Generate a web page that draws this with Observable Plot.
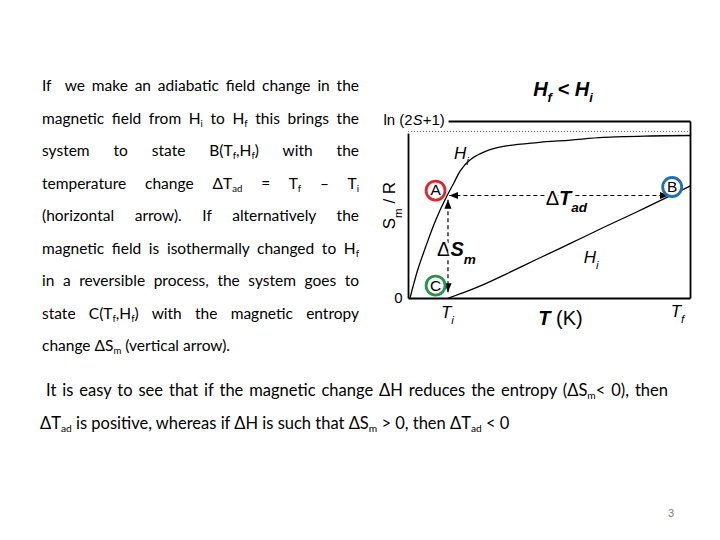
<!DOCTYPE html>
<html><head><meta charset="utf-8">
<script src="https://cdn.jsdelivr.net/npm/d3@7"></script>
<script src="https://cdn.jsdelivr.net/npm/@observablehq/plot@0.6"></script>
<style>
html,body{margin:0;padding:0;background:#fff;}
body{width:720px;height:540px;position:relative;overflow:hidden;font-family:Lato,"Open Sans",sans-serif;color:#000;}
.ln{position:absolute;left:42px;width:317px;height:20px;line-height:20px;font-size:15.5px;white-space:nowrap;text-align:justify;text-align-last:justify;}
.ln.last{text-align-last:left;width:auto;}
.bt{position:absolute;height:20px;line-height:20px;font-size:16.5px;white-space:nowrap;}
sub{font-size:0.62em;vertical-align:-0.3em;line-height:0;}
#title{position:absolute;left:463px;width:200px;top:78px;text-align:center;font-family:"Liberation Sans",Arial,sans-serif;font-weight:bold;font-style:italic;font-size:20px;}
#title sub{font-size:0.65em;vertical-align:-0.45em;}
#chart{position:absolute;left:370px;top:100px;}
#pg{position:absolute;left:668px;top:507px;font-size:11px;color:#7f7f7f;font-family:"Liberation Sans",sans-serif;}
</style>
</head><body>
<div class="ln" style="top:75px">If&nbsp; we make an adiabatic field change in the</div>
<div class="ln" style="top:107.5px">magnetic field from H<sub>i</sub> to H<sub>f</sub> this brings the</div>
<div class="ln" style="top:140px">system to state B(T<sub>f</sub>,H<sub>f</sub>) with the</div>
<div class="ln" style="top:172.5px">temperature change ΔT<sub>ad</sub> = T<sub>f</sub> – T<sub>i</sub></div>
<div class="ln" style="top:205px">(horizontal arrow). If alternatively the</div>
<div class="ln" style="top:237.5px">magnetic field is isothermally changed to H<sub>f</sub></div>
<div class="ln" style="top:270px">in a reversible process, the system goes to</div>
<div class="ln" style="top:302.5px">state C(T<sub>f</sub>,H<sub>f</sub>) with the magnetic entropy</div>
<div class="ln last" style="top:335px">change ΔS<sub>m</sub> (vertical arrow).</div>
<div class="bt fitj" style="top:380px;left:46px;width:622px;text-align:justify;text-align-last:justify;">It is easy to see that if the magnetic change ΔH reduces the entropy (ΔS<sub>m</sub>&lt; 0), then</div>
<div class="bt" style="top:413px;left:40px;">ΔT<sub>ad</sub> is positive, whereas if ΔH is such that ΔS<sub>m</sub> &gt; 0, then ΔT<sub>ad</sub> &lt; 0</div>
<div id="title">H<sub>f</sub> &lt; H<sub>i</sub></div>
<div id="chart"></div>
<div id="pg">3</div>
<script>
// ---- data (T in % of plotted range, S in % of top of frame) ----
const upperT = [0.5, 3.2, 6.0, 9.6, 13.5, 16.0, 18.4, 22.0, 27.3, 33.7, 45.7, 57.4, 69.1, 85.8, 100];
const upperS = [0, 15.8, 28.8, 44.1, 57.6, 65.0, 72.3, 78.5, 83.1, 85.9, 88.1, 89.5, 91.0, 91.8, 92.1];
const lowerT = [13.8, 16.7, 20.2, 25.5, 36.2, 45.7, 57.4, 69.1, 80.5, 91.8, 100];
const lowerS = [0, 1.7, 3.7, 7.1, 15.0, 22.3, 31.1, 40.1, 48.6, 57.3, 63.6];
const asymptoteS = 94.4;
const stateNames = ["A", "B", "C"];
const stateT = [9.6, 93.5, 9.6];
const stateS = [61.0, 63.0, 7.3];
const stateColors = ["#e0262c", "#1f6fb4", "#1e9a4b"];
// arrows: adiabatic (horizontal) and isothermal (vertical)
const arrowT1 = [14.5, 14.0];
const arrowS1 = [58.2, 3.6];
const arrowT2 = [92.2, 14.0];
const arrowS2 = [58.2, 55.8];
// frame segments
const frameT1 = [0, 14.2, 100, 0];
const frameS1 = [0, 100, 0, 0];
const frameT2 = [0, 100, 100, 100];
const frameS2 = [93.2, 100, 100, 0];
// labels
const plainText = ["ln (2*S*+1)", "0"];
const plainT = [2.0, -3.6];
const plainS = [100.6, 0];
const italicText = ["T_{i}", "T_{f}", "H_{i}", "H_{i}"];
const italicT = [13.8, 95.4, 18.8, 64.8];
const italicS = [-7.8, -7.3, 82.0, 23.2];
const boldText = ["~Δ~T_{ad}", "~Δ~S_{m}", "T ~(K)~"];
const boldT = [56.0, 17.0, 53.9];
const boldS = [56.6, 27.5, -11.3];
const axisLabel = ["S_{m} / R"];
const axisLabelT = [-6.6];
const axisLabelS = [52.5];

const upper = upperT.map((t, i) => ({t, s: upperS[i]}));
const lower = lowerT.map((t, i) => ({t, s: lowerS[i]}));
const states = stateNames.map((n, i) => ({n, t: stateT[i], s: stateS[i], c: stateColors[i]}));
const arrows = arrowT1.map((t, i) => ({t1: t, s1: arrowS1[i], t2: arrowT2[i], s2: arrowS2[i]}));
const frame = frameT1.map((t, i) => ({t1: t, s1: frameS1[i], t2: frameT2[i], s2: frameS2[i]}));
const mk = (txt, ts, ss) => txt.map((text, i) => ({text, t: ts[i], s: ss[i]}));

const FONT = "Liberation Sans, Arial, sans-serif";

function headMarker(color, ctx) {
  const doc = (ctx && ctx.document) || document;
  const ns = "http://www.w3.org/2000/svg";
  const m = doc.createElementNS(ns, "marker");
  m.setAttribute("viewBox", "0 -5 10 10");
  m.setAttribute("refX", "10");
  m.setAttribute("refY", "0");
  m.setAttribute("markerUnits", "userSpaceOnUse");
  m.setAttribute("markerWidth", "9");
  m.setAttribute("markerHeight", "9");
  m.setAttribute("orient", "auto-start-reverse");
  const p = doc.createElementNS(ns, "path");
  p.setAttribute("d", "M0,-4L10,0L0,4Z");
  p.setAttribute("fill", color);
  p.setAttribute("stroke", "none");
  m.appendChild(p);
  return m;
}

function build(marker) {
  return Plot.plot({
    width: 330, height: 240,
    marginLeft: 38, marginRight: 10, marginTop: 21, marginBottom: 42,
    x: {domain: [0, 100], axis: null},
    y: {domain: [0, 100], axis: null},
    style: {fontFamily: FONT, background: "transparent", overflow: "visible"},
    marks: [
      Plot.ruleY([asymptoteS], {x1: 0, x2: 100, stroke: "#666", strokeWidth: 1, strokeDasharray: "1,2"}),
      Plot.link(frame, {x1: "t1", y1: "s1", x2: "t2", y2: "s2", stroke: "black", strokeWidth: 1.8}),
      Plot.line(upper, {x: "t", y: "s", curve: "catmull-rom", stroke: "black", strokeWidth: 1.3}),
      Plot.line(lower, {x: "t", y: "s", curve: "catmull-rom", stroke: "black", strokeWidth: 1.3}),
      Plot.link(arrows, {x1: "t1", y1: "s1", x2: "t2", y2: "s2", stroke: "black", strokeWidth: 1.2,
        strokeDasharray: "4,3", markerStart: marker, markerEnd: marker}),
      Plot.dot(states, {x: "t", y: "s", r: 9.5, stroke: "c", fill: "white", strokeWidth: 2.8}),
      Plot.text(states, {x: "t", y: "s", text: "n", fontSize: 15.5, fill: "black"}),
      Plot.text(mk(plainText, plainT, plainS), {x: "t", y: "s", text: "text", fontSize: 15,
        fill: "black", stroke: "white", strokeWidth: 4}),
      Plot.text(mk(italicText, italicT, italicS), {x: "t", y: "s", text: "text", fontSize: 17, fontStyle: "italic", fill: "black"}),
      Plot.text(mk(boldText, boldT, boldS), {x: "t", y: "s", text: "text", fontSize: 20, fontStyle: "italic", fontWeight: "bold",
        fill: "black", stroke: "white", strokeWidth: 5}),
      Plot.text(mk(axisLabel, axisLabelT, axisLabelS), {x: "t", y: "s", text: "text", fontSize: 17, rotate: -90, fill: "black"})
    ]
  });
}

let svg;
try { svg = build(headMarker); } catch (e) { svg = build("arrow"); }

// rich text: _{sub}, *italic*, ~normal~
d3.select(svg).selectAll("text").each(function () {
  const s = this.textContent;
  if (!/[_*~]/.test(s)) return;
  const sel = d3.select(this);
  sel.text(null);
  let shifted = false;
  for (const tok of s.match(/_\{[^}]*\}|\*[^*]*\*|~[^~]*~|[^_*~]+/g)) {
    const t = sel.append("tspan");
    if (tok.startsWith("_{")) {
      t.text(tok.slice(2, -1)).attr("font-size", "68%").attr("dy", "0.55em");
      shifted = true;
    } else {
      if (shifted) { t.attr("dy", "-0.37em"); shifted = false; }
      if (tok[0] === "*") t.text(tok.slice(1, -1)).attr("font-style", "italic");
      else if (tok[0] === "~") t.text(tok.slice(1, -1)).attr("font-style", "normal").attr("font-weight", "normal");
      else t.text(tok);
    }
  }
});
document.getElementById("chart").appendChild(svg);

// fit text lines into their boxes
document.querySelectorAll(".ln:not(.last), .fitj").forEach(el => {
  let fs = parseFloat(getComputedStyle(el).fontSize);
  while (el.scrollWidth > el.clientWidth + 0.5 && fs > 9) { fs -= 0.25; el.style.fontSize = fs + "px"; }
});
</script>
</body></html>
